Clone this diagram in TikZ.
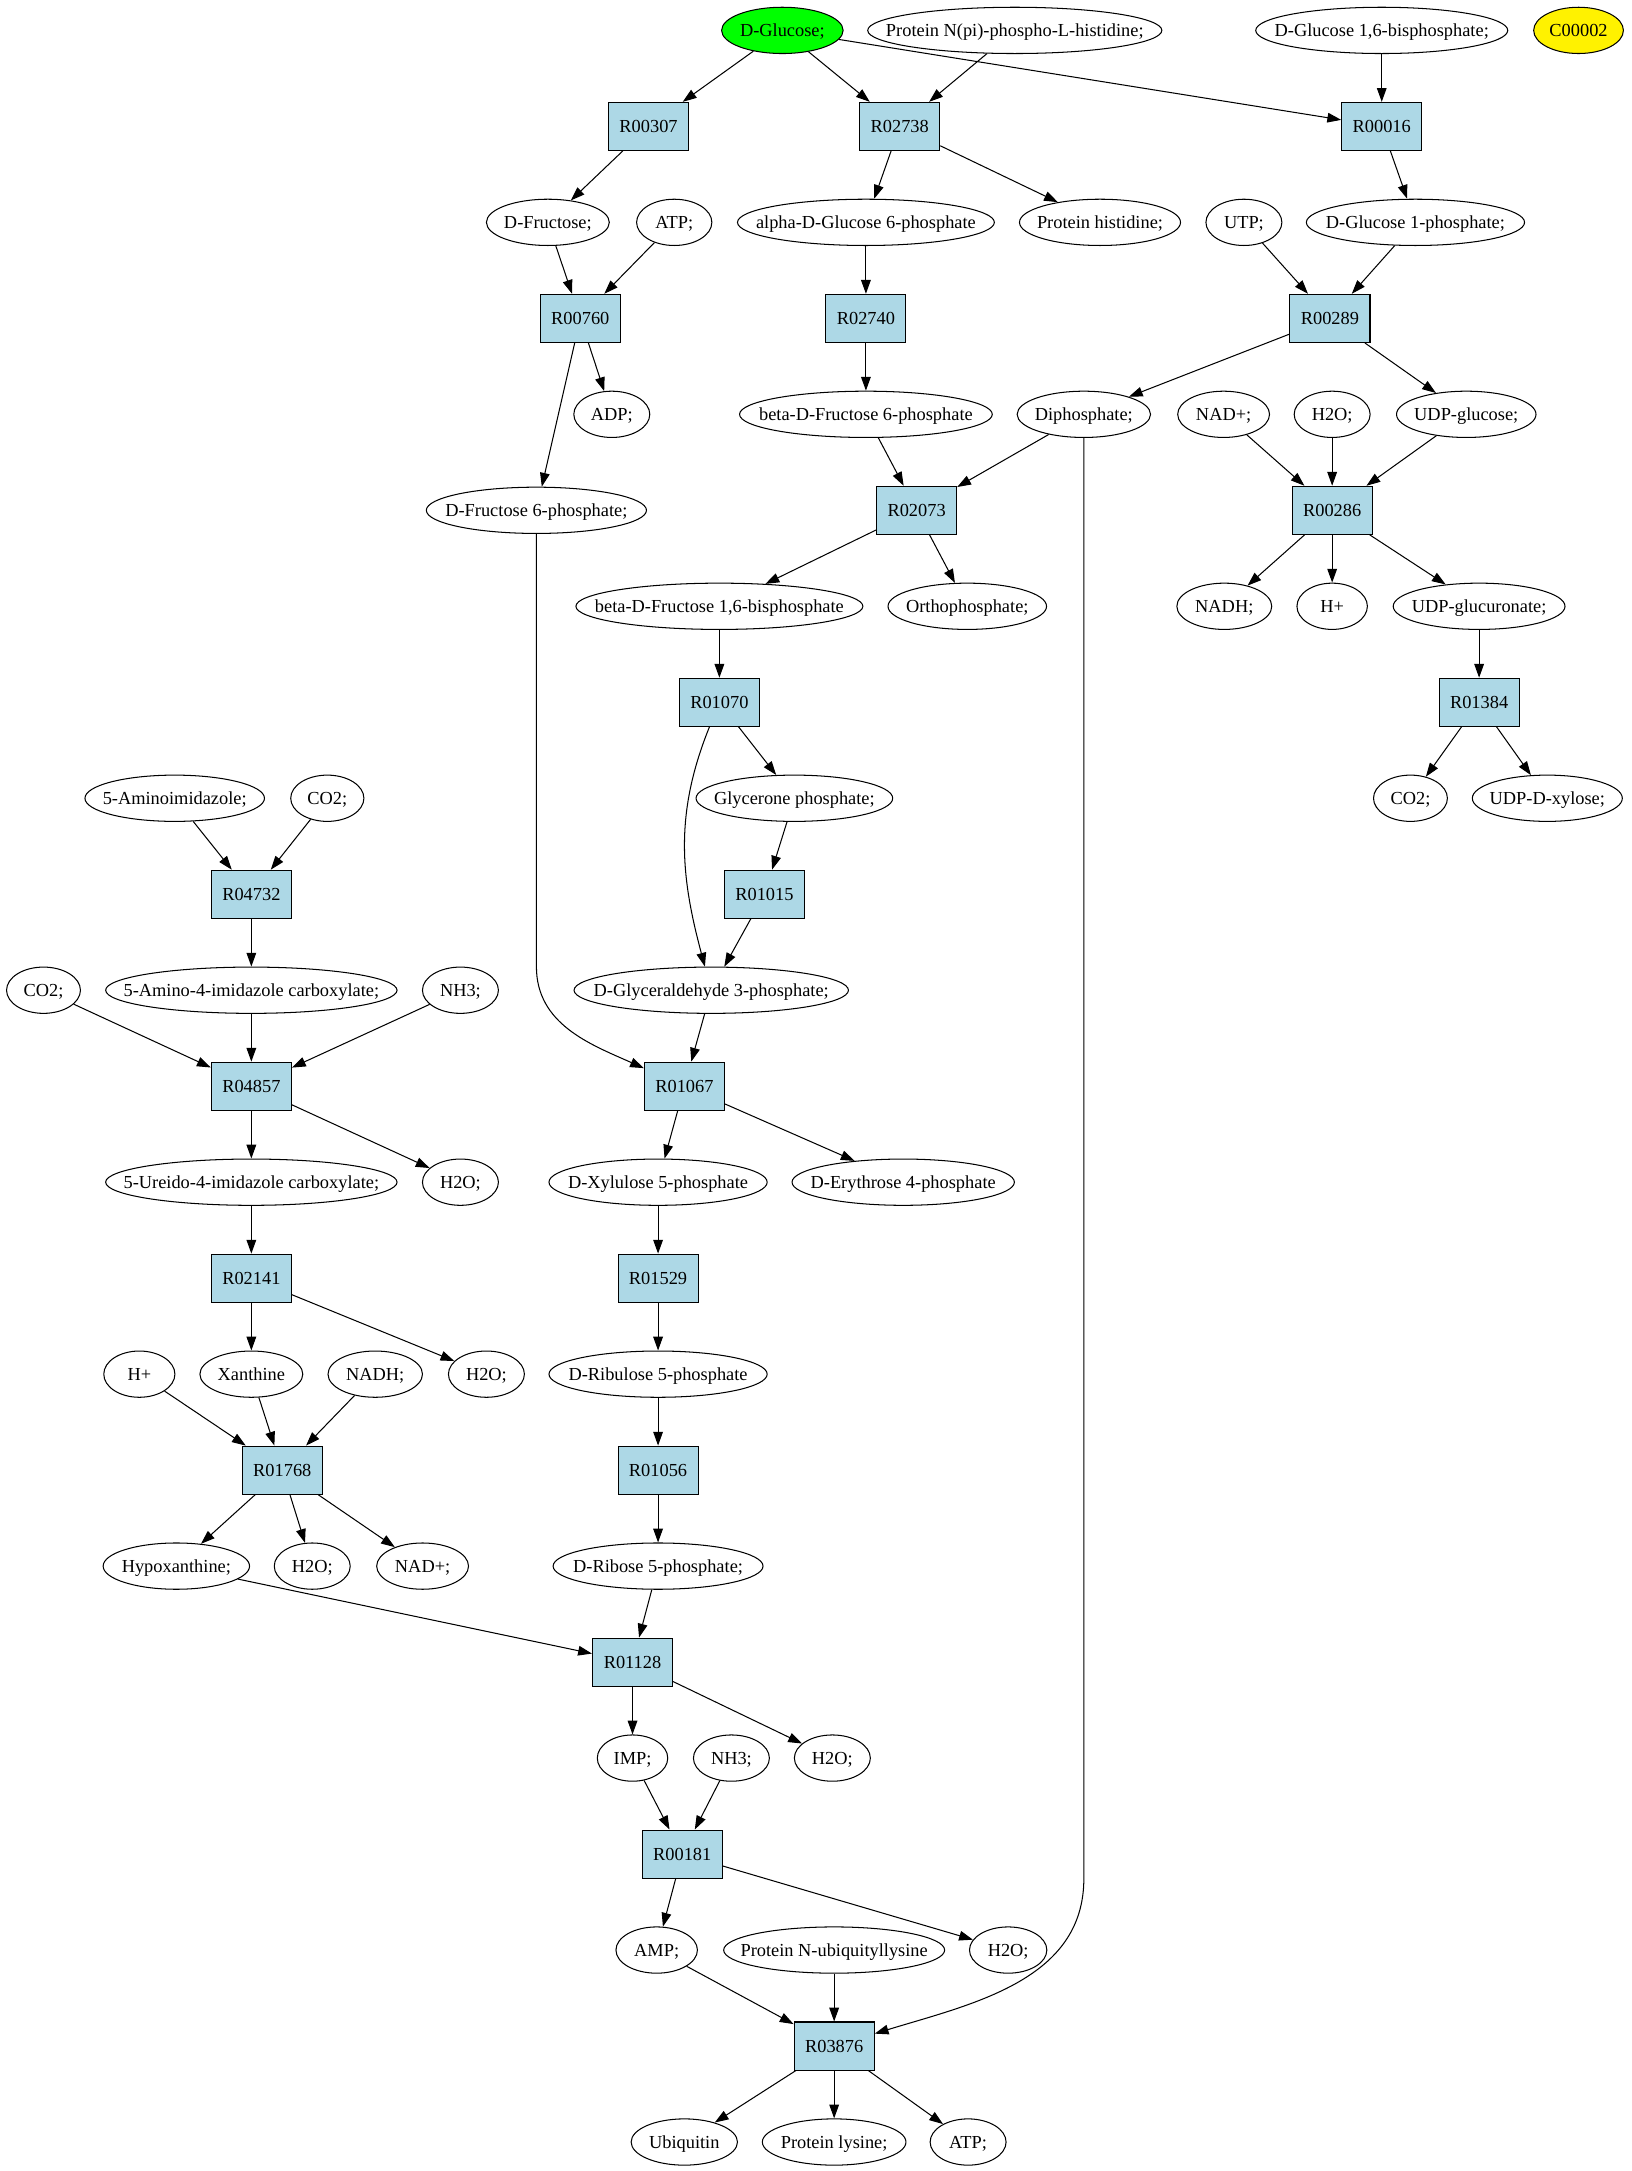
\documentclass[tikz,border=0pt]{standalone}
\usepackage{fontspec}
\setmainfont{Liberation Serif}
\usepackage{tikz}
\usetikzlibrary{arrows.meta,shapes.geometric}

\definecolor{rxnblue}{HTML}{ADD8E6}

\begin{document}
\begin{tikzpicture}[->,>={Triangle[length=10pt,width=7pt]},x=1pt,y=1pt,node distance=69.5pt,
                    line width=0.75pt,font=\fontsize{13.3pt}{16pt}\selectfont]
  %\tikzstyle{cpd}=[ellipse,draw]
	\tikzstyle{cpd}=[ellipse,draw,inner sep=0pt,minimum height=33.5pt,text height=9pt,text depth=0pt,
	                 execute at begin node={\hbox to 0pt\bgroup\hss},execute at end node={\hss\egroup}]
	\tikzstyle{rxn}=[rectangle,draw,fill=rxnblue,inner sep=0pt,minimum width=58pt,minimum height=34.8pt,
	                 text height=9pt,text depth=0pt]

  \path[use as bounding box] (0,0) rectangle (1181,-1572);

  \node[cpd,fill=green,minimum width=88pt]   (glc)   at (566.5,-22)  {D-Glucose;};
  \node[cpd,minimum width=213pt]             (phis)  at (734.8,-22)  {Protein N(pi)-phospho-L-histidine;};
  \node[cpd,minimum width=182.5pt]           (g16bp) at (1000.5,-22) {D-Glucose 1,6-bisphosphate;};
  \node[cpd,fill=yellow,minimum width=65pt]  (c2)    at (1143,-22)   {C00002};

  \node[rxn] (R00307) at (469.6,-91.5) {R00307};
  \node[rxn] (R02738) at (651.5,-91.5) {R02738};
  \node[rxn] (R00016) [below of=g16bp] {R00016};

  \node[cpd,minimum width=89pt]    (fru)   at (396.7,-161)  {D-Fructose;};
  \node[cpd,minimum width=54.5pt]  (atp1)  at (488.2,-161)  {ATP;};
  \node[cpd,minimum width=186pt]   (ag6p)  at (627,-161)    {alpha-D-Glucose 6-phosphate};
  \node[cpd,minimum width=116.6pt] (phis2) at (796.5,-161)  {Protein histidine;};
  \node[cpd,minimum width=55pt]    (utp)   at (900.7,-161)  {UTP;};
  \node[cpd,minimum width=158pt]   (g1p)   at (1024.9,-161) {D-Glucose 1-phosphate;};

  \node[rxn] (R00760) at (420.2,-230.5) {R00760};
  \node[rxn] (R02740) [below of=ag6p] {R02740};
  \node[rxn] (R00289) at (963,-230.5) {R00289};

  \node[cpd,minimum width=55pt]    (adp)  at (443,-300)    {ADP;};
  \node[cpd,minimum width=183pt]   (bf6p) [below of=R02740] {beta-D-Fructose 6-phosphate};
  \node[cpd,minimum width=96.6pt]  (dip)  at (784.8,-300)  {Diphosphate;};
  \node[cpd,minimum width=66.5pt]  (nad1) at (886,-300)    {NAD+;};
  \node[cpd,minimum width=55pt]    (h2o1) at (964.6,-300)  {H2O;};
  \node[cpd,minimum width=101pt]   (udpg) at (1061.7,-300) {UDP-glucose;};

  \node[cpd,minimum width=159.4pt] (f6p) at (388.4,-369.5) {D-Fructose 6-phosphate;};
  \node[rxn] (R02073) at (663.7,-369.5) {R02073};
  \node[rxn] (R00286) [below of=h2o1] {R00286};

  \node[cpd,minimum width=207.8pt] (fbp)    at (520.9,-439) {beta-D-Fructose 1,6-bisphosphate};
  \node[cpd,minimum width=114.8pt] (pi)     at (700.4,-439) {Orthophosphate;};
  \node[cpd,minimum width=68.7pt]  (nadh)   at (886.5,-439) {NADH;};
  \node[cpd,minimum width=51pt]    (hplus1) [below of=R00286] {H+};
  \node[cpd,minimum width=124.4pt] (udpgl)  at (1071,-439)  {UDP-glucuronate;};

  \node[rxn] (R01070) [below of=fbp] {R01070};
  \node[rxn] (R01384) [below of=udpgl] {R01384};

  \node[cpd,minimum width=130pt]   (aim)  at (126.5,-578)  {5-Aminoimidazole;};
  \node[cpd,minimum width=53pt]    (co2a) at (237,-578)    {CO2;};
  \node[cpd,minimum width=142.4pt] (gnp)  at (575.2,-578)  {Glycerone phosphate;};
  \node[cpd,minimum width=53.5pt]  (co2b) at (1021.3,-578) {CO2;};
  \node[cpd,minimum width=108.6pt] (udpx) at (1120.4,-578) {UDP-D-xylose;};

  \node[rxn] (R04732) at (182,-647.5) {R04732};
  \node[rxn] (R01015) at (553.5,-647.5) {R01015};

  \node[cpd,minimum width=53.5pt]  (co2c) at (31.5,-717)  {CO2;};
  \node[cpd,minimum width=211pt]   (aica) [below of=R04732] {5-Amino-4-imidazole carboxylate;};
  \node[cpd,minimum width=55pt]    (nh3a) at (333.4,-717) {NH3;};
  \node[cpd,minimum width=198.7pt] (gap)  at (515,-717)   {D-Glyceraldehyde 3-phosphate;};

  \node[rxn] (R04857) [below of=aica] {R04857};
  \node[rxn] (R01067) at (495.6,-786.5) {R01067};

  \node[cpd,minimum width=211pt] (ureido) [below of=R04857] {5-Ureido-4-imidazole carboxylate;};
  \node[cpd,minimum width=55pt]  (h2o2)   at (333.4,-856) {H2O;};
  \node[cpd,minimum width=158pt] (xu5p)   at (476.5,-856) {D-Xylulose 5-phosphate};
  \node[cpd,minimum width=161pt] (e4p)    at (654,-856)   {D-Erythrose 4-phosphate};

  \node[rxn] (R02141) [below of=ureido] {R02141};
  \node[rxn] (R01529) [below of=xu5p] {R01529};

  \node[cpd,minimum width=51.5pt] (hplus2) at (100.9,-995) {H+};
  \node[cpd,minimum width=74.5pt] (xan)    [below of=R02141] {Xanthine};
  \node[cpd,minimum width=68.4pt] (nadh2)  at (271.7,-995) {NADH;};
  \node[cpd,minimum width=55pt]   (h2o3)   at (352.2,-995) {H2O;};
  \node[cpd,minimum width=158pt]  (ru5p)   [below of=R01529] {D-Ribulose 5-phosphate};

  \node[rxn] (R01768) at (204.4,-1064.5) {R01768};
  \node[rxn] (R01056) [below of=ru5p] {R01056};

  \node[cpd,minimum width=106pt]  (hyp)  at (127.7,-1134) {Hypoxanthine;};
  \node[cpd,minimum width=55pt]   (h2o4) at (226.1,-1134) {H2O;};
  \node[cpd,minimum width=66.5pt] (nad2) at (306,-1134)   {NAD+;};
  \node[cpd,minimum width=152pt]  (r5p)  [below of=R01056] {D-Ribose 5-phosphate;};

  \node[rxn] (R01128) at (458,-1203.5) {R01128};

  \node[cpd,minimum width=51pt] (imp)  [below of=R01128] {IMP;};
  \node[cpd,minimum width=55pt] (nh3b) at (529.6,-1273) {NH3;};
  \node[cpd,minimum width=55pt] (h2o5) at (602.7,-1273) {H2O;};

  \node[rxn] (R00181) at (494,-1342.5) {R00181};

  \node[cpd,minimum width=59pt]  (amp)  at (475.5,-1412) {AMP;};
  \node[cpd,minimum width=160pt] (ubk)  at (604,-1412)   {Protein N-ubiquityllysine};
  \node[cpd,minimum width=56pt]  (h2o6) at (730,-1412)   {H2O;};

  \node[rxn] (R03876) [below of=ubk] {R03876};

  \node[cpd,minimum width=77pt]  (ubq)  at (495.5,-1551) {Ubiquitin};
  \node[cpd,minimum width=104pt] (plys) [below of=R03876] {Protein lysine;};
  \node[cpd,minimum width=55pt]  (atp2) at (701,-1551) {ATP;};

  \path (glc) edge (R00307)
        (glc) edge (R02738)
        (glc) edge (R00016)
        (phis) edge (R02738)
        (g16bp) edge (R00016)
        (R00307) edge (fru)
        (R02738) edge (ag6p)
        (R02738) edge (phis2)
        (R00016) edge (g1p)
        (fru) edge (R00760)
        (atp1) edge (R00760)
        (ag6p) edge (R02740)
        (utp) edge (R00289)
        (g1p) edge (R00289)
        (R00760) edge (adp)
        (R00760) edge (f6p)
        (R02740) edge (bf6p)
        (R00289) edge (dip)
        (R00289) edge (udpg)
        (bf6p) edge (R02073)
        (dip) edge (R02073)
        (nad1) edge (R00286)
        (h2o1) edge (R00286)
        (udpg) edge (R00286)
        (R02073) edge (fbp)
        (R02073) edge (pi)
        (R00286) edge (nadh)
        (R00286) edge (hplus1)
        (R00286) edge (udpgl)
        (fbp) edge (R01070)
        (udpgl) edge (R01384)
        (R01070) edge (gnp)
        (R01070) edge [out=-112,in=105] (gap)
        (R01384) edge (co2b)
        (R01384) edge (udpx)
        (aim) edge (R04732)
        (co2a) edge (R04732)
        (gnp) edge (R01015)
        (R04732) edge (aica)
        (R01015) edge (gap)
        (co2c) edge (R04857)
        (aica) edge (R04857)
        (nh3a) edge (R04857)
        (gap) edge (R01067)
        (R04857) edge (ureido)
        (R04857) edge (h2o2)
        (R01067) edge (xu5p)
        (R01067) edge (e4p)
        (ureido) edge (R02141)
        (xu5p) edge (R01529)
        (R02141) edge (xan)
        (R02141) edge (h2o3)
        (R01529) edge (ru5p)
        (hplus2) edge (R01768)
        (xan) edge (R01768)
        (nadh2) edge (R01768)
        (ru5p) edge (R01056)
        (R01768) edge (hyp)
        (R01768) edge (h2o4)
        (R01768) edge (nad2)
        (R01056) edge (r5p)
        (hyp) edge (R01128)
        (r5p) edge (R01128)
        (R01128) edge (imp)
        (R01128) edge (h2o5)
        (imp) edge (R00181)
        (nh3b) edge (R00181)
        (R00181) edge (amp)
        (R00181) edge (h2o6)
        (amp) edge (R03876)
        (ubk) edge (R03876)
        (R03876) edge (ubq)
        (R03876) edge (plys)
        (R03876) edge (atp2);

  % long ones
  \draw (f6p) -- (f6p.south |- gap.north) to[out=-90,in=156] (R01067);
  \draw (dip) -- (dip.south |- R00181.south) to[out=-90,in=17] (R03876);
\end{tikzpicture}
\end{document}
